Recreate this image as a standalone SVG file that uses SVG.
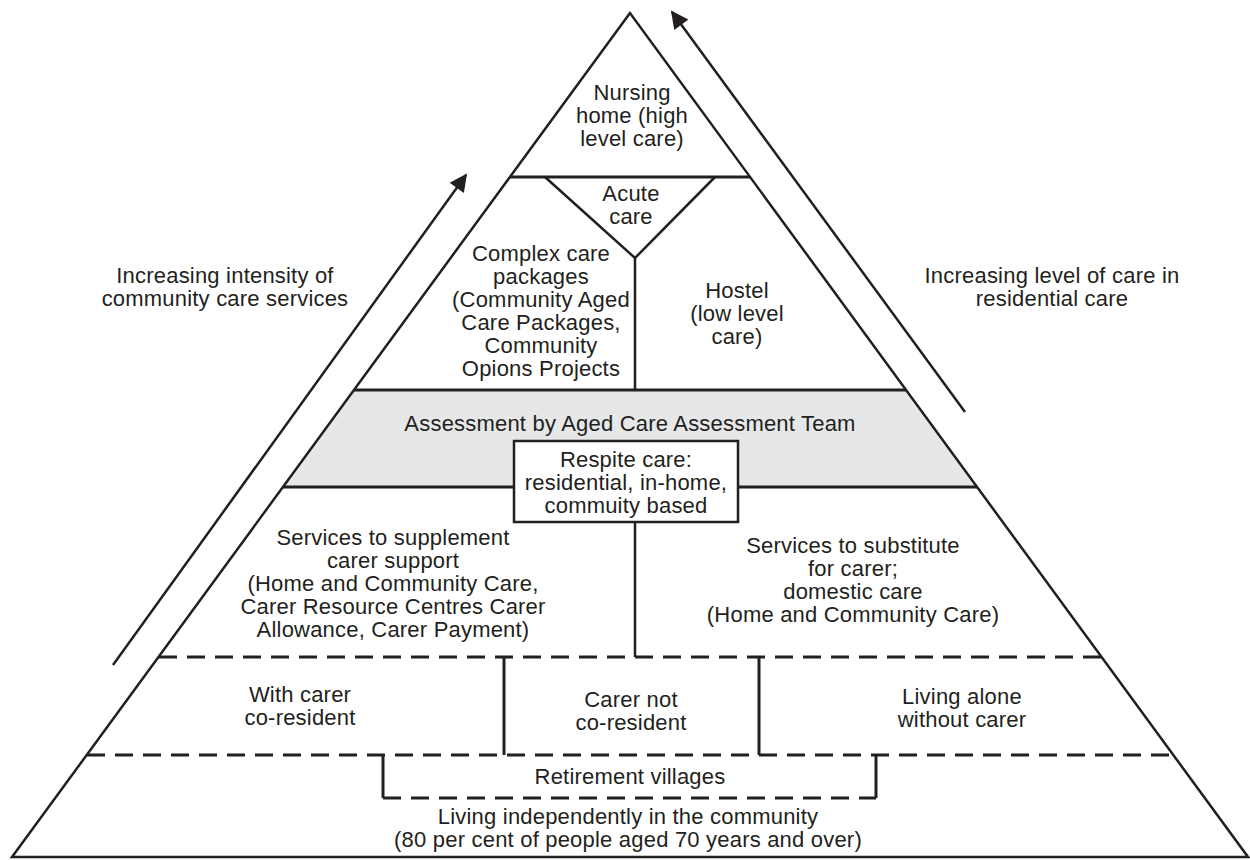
<svg xmlns="http://www.w3.org/2000/svg" width="1250" height="860" viewBox="0 0 1250 860">
<style>
.t{font-family:"Liberation Sans",Arial,sans-serif;font-size:22px;letter-spacing:0.2px;fill:#231f20;text-anchor:middle}
.s{stroke:#231f20;stroke-width:2.5;fill:none}
.h{stroke:#231f20;stroke-width:3;fill:none}
.d{stroke:#231f20;stroke-width:3;fill:none;stroke-dasharray:18 10}
</style>
<defs>
<marker id="ah" viewBox="0 0 10 10" refX="9" refY="5" markerWidth="9" markerHeight="7" markerUnits="strokeWidth" orient="auto">
<path d="M0,0 L10,5 L0,10 z" fill="#231f20"/>
</marker>
</defs>
<rect width="1250" height="860" fill="#fff"/>
<g id="pyramid">
<polygon points="354,390 906,390 977,487 283,487" fill="#e6e7e8"/>
<path class="s" d="M630,13 L12,857 L1248,857 Z"/>
<line class="h" x1="510" y1="177" x2="750" y2="177"/>
<line class="h" x1="354" y1="390" x2="906" y2="390"/>
<line class="h" x1="283" y1="487" x2="977" y2="487"/>
</g>
<g id="nursing-home">
<text class="t" x="632" y="100">Nursing</text>
<text class="t" x="632" y="123">home (high</text>
<text class="t" x="632" y="146">level care)</text>
</g>
<g id="acute-care">
<path class="s" d="M545,177 L635,258 L715,177"/>
<text class="t" x="631" y="201">Acute</text>
<text class="t" x="631" y="224">care</text>
</g>
<g id="complex-care">
<line class="s" x1="635" y1="258" x2="635" y2="390"/>
<text class="t" x="541" y="261">Complex care</text>
<text class="t" x="541" y="284">packages</text>
<text class="t" x="541" y="307">(Community Aged</text>
<text class="t" x="541" y="330">Care Packages,</text>
<text class="t" x="541" y="353">Community</text>
<text class="t" x="541" y="376">Opions Projects</text>
</g>
<g id="hostel">
<text class="t" x="737" y="298">Hostel</text>
<text class="t" x="737" y="321">(low level</text>
<text class="t" x="737" y="344">care)</text>
</g>
<g id="assessment">
<text class="t" x="630" y="431">Assessment by Aged Care Assessment Team</text>
</g>
<g id="respite">
<rect x="514" y="441" width="224" height="81" fill="#fff" stroke="#231f20" stroke-width="2.5"/>
<text class="t" x="626" y="467">Respite care:</text>
<text class="t" x="626" y="490">residential, in-home,</text>
<text class="t" x="626" y="513">commuity based</text>
</g>
<g id="supplement">
<line class="s" x1="635" y1="522" x2="635" y2="657"/>
<text class="t" x="393" y="545">Services to supplement</text>
<text class="t" x="393" y="568">carer support</text>
<text class="t" x="393" y="591">(Home and Community Care,</text>
<text class="t" x="393" y="614">Carer Resource Centres Carer</text>
<text class="t" x="393" y="637">Allowance, Carer Payment)</text>
</g>
<g id="substitute">
<text class="t" x="853" y="553">Services to substitute</text>
<text class="t" x="853" y="576">for carer;</text>
<text class="t" x="853" y="599">domestic care</text>
<text class="t" x="853" y="622">(Home and Community Care)</text>
</g>
<g id="living-situations">
<line class="d" x1="159" y1="657" x2="1101" y2="657"/>
<line class="d" x1="87" y1="755" x2="1173" y2="755"/>
</g>
<g id="with-carer">
<text class="t" x="300" y="702">With carer</text>
<text class="t" x="300" y="725">co-resident</text>
</g>
<g id="carer-not">
<line class="h" x1="504" y1="657" x2="504" y2="755"/>
<line class="h" x1="759" y1="657" x2="759" y2="755"/>
<text class="t" x="631" y="707">Carer not</text>
<text class="t" x="631" y="730">co-resident</text>
</g>
<g id="living-alone">
<text class="t" x="962" y="704">Living alone</text>
<text class="t" x="962" y="727">without carer</text>
</g>
<g id="retirement">
<line class="h" x1="383" y1="755" x2="383" y2="798"/>
<line class="h" x1="876" y1="755" x2="876" y2="798"/>
<line class="d" x1="383" y1="798" x2="876" y2="798"/>
<text class="t" x="630" y="784">Retirement villages</text>
</g>
<g id="independent">
<text class="t" x="628" y="824">Living independently in the community</text>
<text class="t" x="628" y="847">(80 per cent of people aged 70 years and over)</text>
</g>
<g id="left-label">
<text class="t" x="225" y="283">Increasing intensity of</text>
<text class="t" x="225" y="306">community care services</text>
</g>
<g id="right-label">
<text class="t" x="1052" y="283">Increasing level of care in</text>
<text class="t" x="1052" y="306">residential care</text>
</g>
<g id="connectors">
<line class="s" x1="113" y1="665" x2="466" y2="175" marker-end="url(#ah)"/>
<line class="s" x1="965" y1="412" x2="672" y2="12" marker-end="url(#ah)"/>
</g>
</svg>
